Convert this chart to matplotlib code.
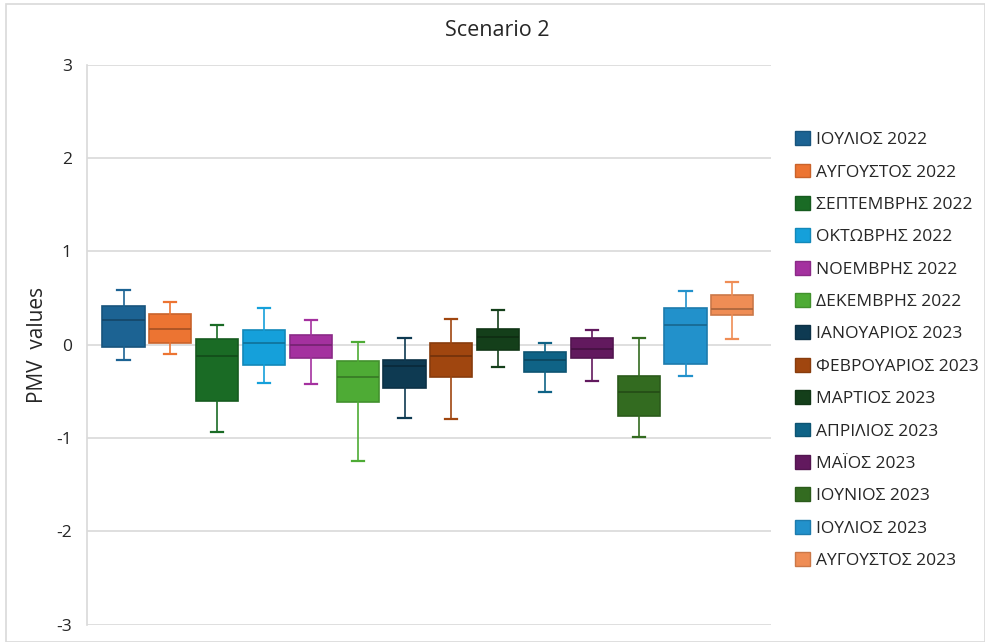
import matplotlib
matplotlib.use("Agg")
import matplotlib.pyplot as plt
from matplotlib.patches import Patch, Rectangle

plt.rcParams['font.family'] = ['Open Sans', 'DejaVu Sans']
plt.rcParams['axes.unicode_minus'] = False

months = ["ΙΟΥΛΙΟΣ 2022", "ΑΥΓΟΥΣΤΟΣ 2022", "ΣΕΠΤΕΜΒΡΗΣ 2022", "ΟΚΤΩΒΡΗΣ 2022",
          "ΝΟΕΜΒΡΗΣ 2022", "ΔΕΚΕΜΒΡΗΣ 2022", "ΙΑΝΟΥΑΡΙΟΣ 2023", "ΦΕΒΡΟΥΑΡΙΟΣ 2023",
          "ΜΑΡΤΙΟΣ 2023", "ΑΠΡΙΛΙΟΣ 2023", "ΜΑΪΟΣ 2023", "ΙΟΥΝΙΟΣ 2023",
          "ΙΟΥΛΙΟΣ 2023", "ΑΥΓΟΥΣΤΟΣ 2023"]

whisker_low = [-0.16, -0.10, -0.93, -0.41, -0.42, -1.25, -0.78, -0.80, -0.24, -0.51, -0.39, -0.99, -0.34, 0.06]
q1          = [-0.02,  0.02, -0.60, -0.22, -0.14, -0.61, -0.46, -0.35, -0.06, -0.29, -0.14, -0.76, -0.21, 0.32]
median      = [ 0.27,  0.17, -0.12,  0.02,  0.00, -0.35, -0.23, -0.12,  0.08, -0.16, -0.05, -0.51,  0.21, 0.38]
q3          = [ 0.41,  0.33,  0.06,  0.16,  0.10, -0.17, -0.16,  0.02,  0.17, -0.08,  0.07, -0.33,  0.39, 0.53]
whisker_high= [ 0.59,  0.46,  0.21,  0.39,  0.26,  0.03,  0.07,  0.28,  0.37,  0.02,  0.16,  0.07,  0.58, 0.67]

colors = ["#1c6393", "#ec7432", "#1a6b25", "#15a0da", "#a4319f", "#4eab35", "#0e3a52",
          "#a0460f", "#143f1a", "#0f6386", "#62195e", "#336b20", "#2291cb", "#ef8d55"]


def darker(hex_color, f=0.75):
    r, g, b = matplotlib.colors.to_rgb(hex_color)
    return (r * f, g * f, b * f)


fig = plt.figure(figsize=(9.85, 6.42), dpi=100)
fig.patches.append(Rectangle((0.006, 0.0), 0.994, 0.993, transform=fig.transFigure,
                             fill=False, edgecolor="#d9d9d9", linewidth=1.2))

ax = fig.add_axes([0.0883, 0.027, 0.6942, 0.872])

stats = []
for i, m in enumerate(months):
    stats.append(dict(label=m, whislo=whisker_low[i], q1=q1[i], med=median[i],
                      q3=q3[i], whishi=whisker_high[i], fliers=[]))

for i, st in enumerate(stats):
    c = colors[i]
    ax.bxp([st], positions=[i], widths=0.9, patch_artist=True, showfliers=False,
           boxprops=dict(facecolor=c, edgecolor=darker(c, 0.85), linewidth=1.2),
           medianprops=dict(color=darker(c, 0.7), linewidth=1.2),
           whiskerprops=dict(color=c, linewidth=1.2),
           capprops=dict(color=c, linewidth=1.6),
           capwidths=0.26)

ax.set_xlim(-0.78, 13.82)
ax.set_ylim(-3, 3)
ax.set_yticks([-3, -2, -1, 0, 1, 2, 3])
ax.set_xticks([])
ax.grid(axis="y", color="#d9d9d9", linewidth=1.2)
ax.set_axisbelow(True)
for s in ["top", "right", "bottom"]:
    ax.spines[s].set_visible(False)
ax.spines["left"].set_color("#d9d9d9")
ax.spines["left"].set_linewidth(1.2)
ax.tick_params(axis="y", length=0, pad=11, labelsize=12.5, labelcolor="#262626")
ax.set_ylabel("PMV  values", fontsize=15, color="#262626", labelpad=6)

fig.text(0.505, 0.952, "Scenario 2", ha="center", va="center", fontsize=15.5, color="#262626")

handles = [Patch(facecolor=c, edgecolor=darker(c, 0.85)) for c in colors]
fig.legend(handles, months, loc="upper left", bbox_to_anchor=(0.791, 0.820),
           frameon=False, fontsize=12.5, labelspacing=0.89, handlelength=0.85,
           handleheight=0.85, handletextpad=0.4, labelcolor="#262626")

fig.savefig("out.png", dpi=100)
